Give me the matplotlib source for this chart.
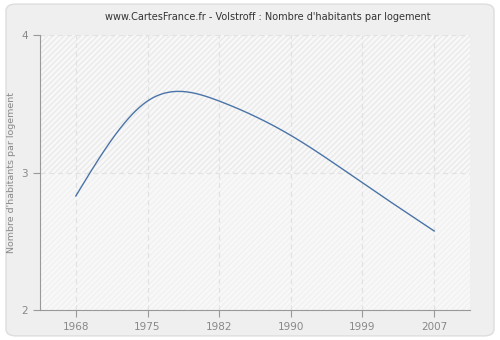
import numpy as np
import matplotlib
matplotlib.use('Agg')
import matplotlib.pyplot as plt
from matplotlib.patches import FancyBboxPatch, Rectangle

# Census years and inhabitants per dwelling
years = ['1968', '1975', '1982', '1990', '1999', '2007']
values = [2.83, 3.52, 3.52, 3.27, 2.925, 2.575]
y_ticks = [2, 3, 4]


def natural_spline(x, y, xs):
    # plain natural cubic spline, no scipy needed
    x = np.asarray(x, float)
    y = np.asarray(y, float)
    n = len(x)
    h = np.diff(x)
    A = np.zeros((n, n))
    b = np.zeros(n)
    A[0, 0] = A[-1, -1] = 1
    for i in range(1, n - 1):
        A[i, i - 1] = h[i - 1]
        A[i, i] = 2 * (h[i - 1] + h[i])
        A[i, i + 1] = h[i]
        b[i] = 3 * ((y[i + 1] - y[i]) / h[i] - (y[i] - y[i - 1]) / h[i - 1])
    c = np.linalg.solve(A, b)
    out = np.empty_like(xs)
    for k, xv in enumerate(xs):
        i = min(max(np.searchsorted(x, xv) - 1, 0), n - 2)
        dx = xv - x[i]
        bi = (y[i + 1] - y[i]) / h[i] - h[i] * (2 * c[i] + c[i + 1]) / 3
        di = (c[i + 1] - c[i]) / (3 * h[i])
        out[k] = y[i] + bi * dx + c[i] * dx ** 2 + di * dx ** 3
    return out


# years are evenly spaced categories on the axis
pos = np.arange(len(years))
xs = np.linspace(pos[0], pos[-1], 400)
ys = natural_spline(pos, values, xs)

fig = plt.figure(figsize=(5, 3.4), dpi=100)
fig.patch.set_facecolor('white')
fig.patches.append(FancyBboxPatch((0.012, 0.012), 0.976, 0.976,
                                  boxstyle='round,pad=0,rounding_size=0.02',
                                  transform=fig.transFigure,
                                  facecolor='#efefef', edgecolor='#dddddd',
                                  linewidth=1, zorder=-5))

ax = fig.add_axes([0.08, 0.088, 0.86, 0.809])
ax.set_facecolor('#f8f8f8')
ax.set_xlim(-0.5, len(years) - 0.5)
ax.set_ylim(2, 4)

# hatched background, stronger above 3
ax.add_patch(Rectangle((-0.5, 2), len(years), 1, facecolor='none',
                       edgecolor='#f1f1f1', hatch='//////', linewidth=0, zorder=0))
ax.add_patch(Rectangle((-0.5, 3), len(years), 1, facecolor='none',
                       edgecolor='#eaeaea', hatch='//////', linewidth=0, zorder=0))

ax.plot(xs, ys, color='#4a74a8', linewidth=1, zorder=3)

ax.set_xticks(pos)
ax.set_xticklabels(years)
ax.set_yticks(y_ticks)
ax.grid(True, color='#e2e2e2', linestyle=(0, (4, 3)), linewidth=0.9, zorder=1)
ax.set_axisbelow(True)

for s in ['top', 'right']:
    ax.spines[s].set_visible(False)
for s in ['left', 'bottom']:
    ax.spines[s].set_color('#999999')
ax.tick_params(colors='#999999', labelcolor='#888888', labelsize=7.5,
               length=5, width=0.8, direction='out')

ax.set_ylabel("Nombre d'habitants par logement", color='#888888', fontsize=6.8)
fig.suptitle("www.CartesFrance.fr - Volstroff : Nombre d'habitants par logement",
             x=0.535, y=0.965, fontsize=7.0, color='#333333')

fig.savefig('out.png', dpi=100, facecolor=fig.get_facecolor())
